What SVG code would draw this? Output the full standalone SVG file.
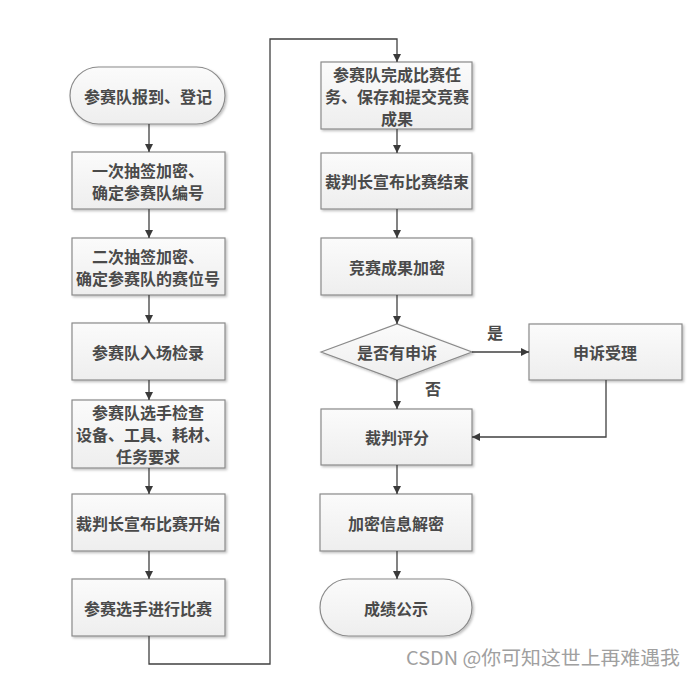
<svg xmlns="http://www.w3.org/2000/svg" width="693" height="676" viewBox="0 0 693 676">
<defs>
<linearGradient id="g" x1="0" y1="0" x2="0" y2="1">
<stop offset="0" stop-color="#fbfbfb"/>
<stop offset="1" stop-color="#eeeeee"/>
</linearGradient>
<filter id="sh" x="-10%" y="-10%" width="125%" height="130%">
<feDropShadow dx="1.5" dy="1.5" stdDeviation="1.2" flood-color="#000" flood-opacity="0.25"/>
</filter>
<marker id="ah" viewBox="0 0 10 10" refX="10" refY="5" markerWidth="8" markerHeight="8" markerUnits="userSpaceOnUse" orient="auto">
<path d="M0,0 L10,5 L0,10 Z" fill="#3a3a3a"/>
</marker>
</defs>
<style>
.box{fill:url(#g);stroke:#8a8a8a;stroke-width:1.2;filter:url(#sh)}
.t{font-family:"Noto Sans CJK SC","Noto Sans CJK JP",sans-serif;font-size:16px;font-weight:bold;fill:#4a4a4a;text-anchor:middle;dominant-baseline:central}
.c{fill:none;stroke:#404040;stroke-width:1.3;marker-end:url(#ah)}
.wm{font-family:"Noto Sans CJK SC","Liberation Sans",sans-serif;font-size:19px;fill:#a0a0a0}
</style>
<rect width="693" height="676" fill="#ffffff"/>
<g id="n1"><rect class="box" x="70" y="67" width="155" height="57" rx="28.5"/><text class="t" x="148" y="96">参赛队报到、登记</text></g>
<g id="n2"><rect class="box" x="72" y="152" width="153" height="57"/><text class="t" x="148" y="170">一次抽签加密、</text><text class="t" x="148" y="192">确定参赛队编号</text></g>
<g id="n3"><rect class="box" x="72" y="238" width="153" height="57"/><text class="t" x="148" y="256">二次抽签加密、</text><text class="t" x="148" y="278">确定参赛队的赛位号</text></g>
<g id="n4"><rect class="box" x="72" y="323" width="153" height="57"/><text class="t" x="148" y="352">参赛队入场检录</text></g>
<g id="n5"><rect class="box" x="72" y="400" width="153" height="68"/><text class="t" x="148" y="412">参赛队选手检查</text><text class="t" x="148" y="434">设备、工具、耗材、</text><text class="t" x="148" y="456">任务要求</text></g>
<g id="n6"><rect class="box" x="72" y="494" width="153" height="57"/><text class="t" x="148" y="523">裁判长宣布比赛开始</text></g>
<g id="n7"><rect class="box" x="72" y="579" width="153" height="57"/><text class="t" x="148" y="608">参赛选手进行比赛</text></g>
<g id="n8"><rect class="box" x="321" y="62" width="151" height="67"/><text class="t" x="397" y="73.5">参赛队完成比赛任</text><text class="t" x="397" y="95.5">务、保存和提交竞赛</text><text class="t" x="397" y="117.5">成果</text></g>
<g id="n9"><rect class="box" x="321" y="153" width="151" height="56"/><text class="t" x="397" y="181">裁判长宣布比赛结束</text></g>
<g id="n10"><rect class="box" x="321" y="238" width="151" height="57"/><text class="t" x="397" y="267">竞赛成果加密</text></g>
<g id="n11"><path class="box" d="M321,352 L397,324 L472,352 L397,380 Z"/><text class="t" x="397" y="352">是否有申诉</text></g>
<g id="n12"><rect class="box" x="529" y="324" width="153" height="56"/><text class="t" x="605" y="352">申诉受理</text></g>
<g id="n13"><rect class="box" x="321" y="409" width="151" height="56"/><text class="t" x="397" y="437">裁判评分</text></g>
<g id="n14"><rect class="box" x="320" y="494" width="152" height="57"/><text class="t" x="396" y="523">加密信息解密</text></g>
<g id="n15"><rect class="box" x="320" y="579" width="152" height="57" rx="28.5"/><text class="t" x="396" y="608">成绩公示</text></g>
<g id="connectors">
<line class="c" x1="149" y1="124" x2="149" y2="152"/>
<line class="c" x1="149" y1="209" x2="149" y2="238"/>
<line class="c" x1="149" y1="295" x2="149" y2="323"/>
<line class="c" x1="149" y1="380" x2="149" y2="400"/>
<line class="c" x1="149" y1="468" x2="149" y2="494"/>
<line class="c" x1="149" y1="551" x2="149" y2="579"/>
<polyline class="c" points="149,636 149,664 270,664 270,39 397,39 397,62"/>
<line class="c" x1="397" y1="129" x2="397" y2="153"/>
<line class="c" x1="397" y1="209" x2="397" y2="238"/>
<line class="c" x1="397" y1="295" x2="397" y2="324"/>
<line class="c" x1="472" y1="352" x2="529" y2="352"/>
<line class="c" x1="397" y1="380" x2="397" y2="409"/>
<polyline class="c" points="606,380 606,437 472,437"/>
<line class="c" x1="397" y1="465" x2="397" y2="494"/>
<line class="c" x1="397" y1="551" x2="397" y2="579"/>
</g>
<text class="t" x="495" y="332">是</text>
<text class="t" x="433" y="388">否</text>
<text class="wm" x="406" y="665" textLength="274" lengthAdjust="spacingAndGlyphs">CSDN @你可知这世上再难遇我</text>
</svg>
